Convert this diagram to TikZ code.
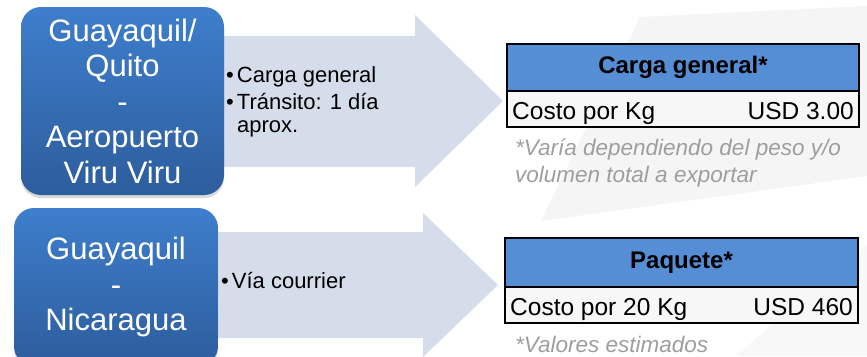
\documentclass[tikz,border=0pt]{standalone}
\usepackage{fontspec}
\setmainfont{Liberation Sans}
\usetikzlibrary{positioning,shadows}
\definecolor{routetop}{RGB}{62,126,204}
\definecolor{routebot}{RGB}{45,93,156}
\definecolor{arrowfill}{RGB}{213,220,234}
\definecolor{tblhead}{RGB}{85,142,213}
\definecolor{tblrow}{RGB}{247,247,247}
\definecolor{notegray}{RGB}{158,158,158}
\definecolor{wmark}{RGB}{245,245,245}
\definecolor{wmarklight}{RGB}{248,248,248}

\begin{document}
\begin{tikzpicture}[
    x=1pt, y=-1pt,
    route/.style={rounded corners=20pt, top color=routetop, bottom color=routebot, text=white, align=center, inner sep=0pt, font=\fontsize{31}{35.5}\selectfont, drop shadow={shadow xshift=0pt, shadow yshift=-3pt, opacity=0.3}},
    info/.style={inner sep=0pt, anchor=base west, font=\fontsize{22}{23}\selectfont},
    headcell/.style={draw, line width=2pt, fill=tblhead, outer sep=0pt, font=\bfseries\fontsize{24}{26}\selectfont},
    rowcell/.style={draw, line width=2pt, fill=tblrow, outer sep=0pt},
    celltext/.style={inner sep=0pt, font=\fontsize{24.5}{26}\selectfont},
    note/.style={inner sep=0pt, anchor=base west, text=notegray, font=\itshape\fontsize{22.5}{27}\selectfont}
]
\useasboundingbox (0,0) rectangle (867,356);

% ========== WATERMARK (BACKGROUND) ==========
\fill[wmark] (640,17) -- (867,6) -- (867,176) -- (541,221) -- cycle;
\fill[wmarklight] (867,245) -- (867,356) -- (735,356) -- cycle;

% ========== ARROWS ==========
\fill[arrowfill] (200,36) -- (415,36) -- (415,15) -- (503,101) -- (415,187) -- (415,167) -- (200,167) -- cycle;
\fill[arrowfill] (200,232) -- (423,232) -- (423,213) -- (498,285) -- (423,357) -- (423,338) -- (200,338) -- cycle;

% ========== ROUTE BOXES ==========
\node[route, minimum width=203pt, minimum height=188pt] (air) at (122.5,101) {Guayaquil/\\Quito\\-\\Aeropuerto\\Viru Viru};
\node[route, minimum width=204pt, minimum height=158pt] (courier) at (116,287) {Guayaquil\\-\\Nicaragua};

% ========== DETAILS ==========
\node[info] (cargo) at (226,82.3) {\textbullet\hspace{3pt}Carga general};
\node[info] (transit) at (226,109.3) {\textbullet\hspace{3pt}Tránsito: 1 día};
\node[info] (approx) at (237,132.3) {aprox.};
\node[info] (via) at (221,288) {\textbullet\hspace{3pt}Vía courrier};

% ========== TABLES ==========
\node[headcell, minimum width=352pt, minimum height=47pt] (cghead) at (683,67.5) {Carga general*};
\node[rowcell, minimum width=352pt, minimum height=36pt, below=0pt of cghead] (cgrow) {};
\node[celltext, anchor=base west] (cglabel) at ([xshift=5pt,yshift=-10pt]cgrow.west) {Costo por Kg};
\node[celltext, anchor=base east] (cgvalue) at ([xshift=-5pt,yshift=-10pt]cgrow.east) {USD 3.00};
\node[note] (cgnote) at (515,155) {*Varía dependiendo del peso y/o};
\node[note] (cgnote2) at (515,182.5) {volumen total a exportar};

\node[headcell, minimum width=353pt, minimum height=49pt] (pkhead) at (681.5,262.5) {Paquete*};
\node[rowcell, minimum width=353pt, minimum height=36pt, below=0pt of pkhead] (pkrow) {};
\node[celltext, anchor=base west] (pklabel) at ([xshift=5pt,yshift=-10pt]pkrow.west) {Costo por 20 Kg};
\node[celltext, anchor=base east] (pkvalue) at ([xshift=-5pt,yshift=-10pt]pkrow.east) {USD 460};
\node[note] (pknote) at (515,352) {*Valores estimados};

\end{tikzpicture}
\end{document}
